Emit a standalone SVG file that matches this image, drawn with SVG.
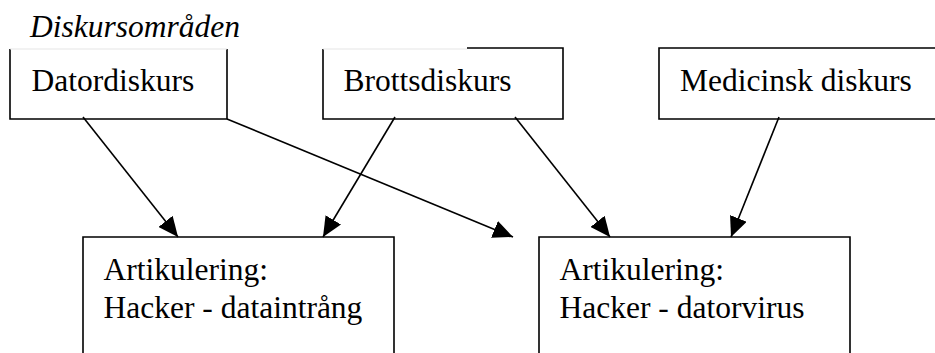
<svg xmlns="http://www.w3.org/2000/svg" width="935" height="353" viewBox="0 0 935 353">
<style>
.box{fill:#fff;stroke:#000;stroke-width:1.6}
.t{font-family:"Liberation Serif","Times New Roman",serif;font-size:31.5px;fill:#000}
.ti{font-style:italic}
.c{stroke:#000;stroke-width:1.6;fill:none;marker-end:url(#ah)}
</style>
<defs>
<marker id="ah" viewBox="0 0 20 18" refX="20" refY="9" markerWidth="20" markerHeight="18" orient="auto" markerUnits="userSpaceOnUse">
<path d="M0,0 L20,9 L0,18 z" fill="#000"/>
</marker>
</defs>
<rect width="935" height="353" fill="#fff"/>
<g id="title">
<text class="t ti" x="30" y="37">Diskursområden</text>
</g>
<g id="datordiskurs">
<path class="box" d="M10,49 V119 H227 V49" />
<line x1="10" y1="49" x2="227" y2="49" stroke="#e6e6e6" stroke-width="1.2"/>
<text class="t" x="31.5" y="91">Datordiskurs</text>
</g>
<g id="brottsdiskurs">
<path class="box" d="M323,49 V119 H563 V48 H467" />
<line x1="323" y1="49" x2="467" y2="49" stroke="#e6e6e6" stroke-width="1.2"/>
<text class="t" x="343.5" y="91">Brottsdiskurs</text>
</g>
<g id="medicinsk">
<path class="box" d="M940,48 H659 V119 H940" />
<text class="t" x="680" y="91">Medicinsk diskurs</text>
</g>
<g id="artikulering1">
<path class="box" d="M83,360 V237 H394 V360" />
<text class="t" x="103.5" y="280">Artikulering:</text>
<text class="t" x="103.5" y="318">Hacker - dataintrång</text>
</g>
<g id="artikulering2">
<path class="box" d="M539,360 V237 H850 V360" />
<text class="t" x="559.5" y="280">Artikulering:</text>
<text class="t" x="559.5" y="318">Hacker - datorvirus</text>
</g>
<g id="connectors">
<line class="c" x1="83" y1="117" x2="178" y2="237"/>
<line class="c" x1="227" y1="119" x2="513" y2="237"/>
<line class="c" x1="395" y1="117" x2="323" y2="237"/>
<line class="c" x1="515" y1="117" x2="610" y2="237"/>
<line class="c" x1="779" y1="117" x2="731" y2="237"/>
</g>
</svg>
